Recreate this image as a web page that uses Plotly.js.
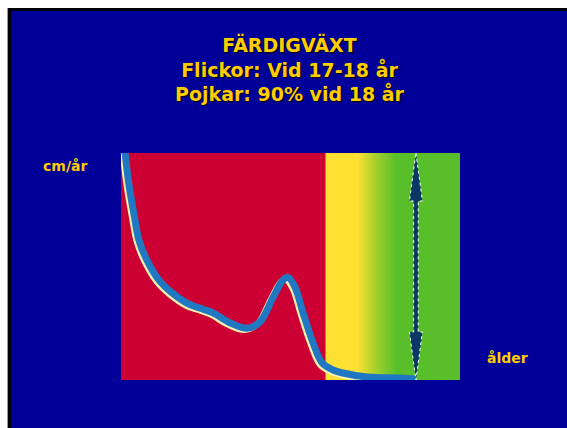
<!DOCTYPE html>
<html>
<head>
<meta charset="utf-8">
<script src="https://cdn.plot.ly/plotly-3.0.1.min.js"></script>
<style>
  html, body { margin: 0; padding: 0; background: #ffffff; width: 567px; height: 428px; overflow: hidden; }
  #frame { position: absolute; left: 7px; top: 8px; width: 560px; height: 420px;
           border-left: 1px solid #999; }
  #box { position: absolute; left: 0px; top: 0px; width: 557px; height: 417px;
         border-left: 3px solid #000; border-top: 3px solid #000; background: #000099; }
  #chart { width: 557px; height: 417px; }
</style>
</head>
<body>
<div id="frame"><div id="box"><div id="chart"></div></div></div>
<script>
// Growth velocity curve (age in years, growth in cm/år)
const ages = [0.21, 0.47, 0.77, 1.06, 1.53, 2.24, 3.01, 3.95, 4.84, 5.43, 6.43, 7.43, 8.20, 8.97, 9.56, 9.85, 10.27, 10.74, 11.33, 11.86, 12.51, 13.10, 14.51, 16.46, 17.40];
const velocity = [25.5, 21.5, 18.2, 15.4, 13.2, 11.0, 9.6, 8.4, 7.8, 7.4, 6.3, 5.7, 6.4, 9.1, 11.0, 11.3, 10.2, 7.4, 4.1, 1.9, 1.1, 0.77, 0.33, 0.22, 0.11];

// Background phases (age position and colour level: 0 red, 1 yellow, 2 yellow-green, 3 green)
const phaseAge = [0, 12.0, 12.12, 13.9, 15.0, 16.2, 20];
const phaseLevel = [0, 0, 1, 1, 2, 3, 3];
const phaseRows = [0, 25];

// Final-height marker age
const finalAge = [17.4];

// Text
const titleLines = ['FÄRDIGVÄXT', 'Flickor: Vid 17-18 år', 'Pojkar: 90% vid 18 år'];
const yLabel = 'cm/år';
const xLabel = 'ålder';

const xRange = [0, 20];
const yRange = [0, 25];

const gold = '#ffcc00';
const fontFam = '"Comic Sans MS", "DejaVu Sans", sans-serif';

const heat = {
  type: 'heatmap',
  x: phaseAge,
  y: phaseRows,
  z: phaseRows.map(() => phaseLevel),
  zmin: 0, zmax: 3,
  zsmooth: 'best',
  colorscale: [[0, '#cc0033'], [0.3333, '#ffe033'], [0.6667, '#a6d02a'], [1, '#58bf2a']],
  showscale: false,
  hoverinfo: 'skip'
};

const glow = {
  type: 'scatter', mode: 'lines',
  x: ages, y: velocity,
  xaxis: 'x2', yaxis: 'y2',
  line: { color: '#fff2b0', width: 6, shape: 'spline', smoothing: 1 },
  hoverinfo: 'skip'
};

const curve = {
  type: 'scatter', mode: 'lines',
  x: ages, y: velocity,
  xaxis: 'x3', yaxis: 'y3',
  line: { color: '#1f78c1', width: 7, shape: 'spline', smoothing: 1 },
  hoverinfo: 'skip'
};

// arrow geometry in axis units
const pxX = (xRange[1] - xRange[0]) / 339;
const pxY = (yRange[1] - yRange[0]) / 227;
const ax0 = finalAge[0];
const hw = 6.5 * pxX, sw = 2.3 * pxX, hl = 48 * pxY;
const yTop = yRange[1], yBot = yRange[0];
const pts = [
  [ax0, yTop], [ax0 + hw, yTop - hl], [ax0 + sw, yTop - hl], [ax0 + sw, yBot + hl], [ax0 + hw, yBot + hl],
  [ax0, yBot], [ax0 - hw, yBot + hl], [ax0 - sw, yBot + hl], [ax0 - sw, yTop - hl], [ax0 - hw, yTop - hl]
];
const arrowPath = 'M' + pts.map(p => p[0] + ',' + p[1]).join(' L') + ' Z';

const shiftX = 2.2 * pxX, shiftY = 1.8 * pxY;

const hiddenAxis = { showgrid: false, zeroline: false, showticklabels: false, showline: false, ticks: '', fixedrange: true };

const layout = {
  width: 557, height: 417,
  margin: { l: 110, r: 108, t: 142, b: 48 },
  paper_bgcolor: '#000099',
  plot_bgcolor: '#cc0033',
  showlegend: false,
  title: {
    text: titleLines.join('<br>'),
    font: { family: fontFam, size: 19, color: gold, weight: 'bold', shadow: '1px 1px 1px #000000' },
    x: 0.5, xanchor: 'center',
    y: 0.902, yanchor: 'top', yref: 'container'
  },
  xaxis: Object.assign({ range: xRange }, hiddenAxis),
  yaxis: Object.assign({ range: yRange }, hiddenAxis),
  xaxis2: Object.assign({ range: [xRange[0] + shiftX, xRange[1] + shiftX], overlaying: 'x' }, hiddenAxis),
  yaxis2: Object.assign({ range: [yRange[0] + shiftY, yRange[1] + shiftY], overlaying: 'y' }, hiddenAxis),
  xaxis3: Object.assign({ range: xRange, overlaying: 'x' }, hiddenAxis),
  yaxis3: Object.assign({ range: yRange, overlaying: 'y' }, hiddenAxis),
  shapes: [{
    type: 'path', xref: 'x', yref: 'y', path: arrowPath,
    fillcolor: '#0b3766', line: { color: '#ffffff', width: 1, dash: 'dot' }, layer: 'above'
  }],
  annotations: [
    { text: yLabel, xref: 'paper', yref: 'paper', x: -0.165, y: 0.943, showarrow: false,
      font: { family: fontFam, size: 14, color: gold, weight: 'bold' }, xanchor: 'center', yanchor: 'middle' },
    { text: xLabel, xref: 'paper', yref: 'paper', x: 1.139, y: 0.097, showarrow: false,
      font: { family: fontFam, size: 14, color: gold, weight: 'bold' }, xanchor: 'center', yanchor: 'middle' }
  ]
};

Plotly.newPlot('chart', [heat, glow, curve], layout, { staticPlot: true, displayModeBar: false });
</script>
</body>
</html>
